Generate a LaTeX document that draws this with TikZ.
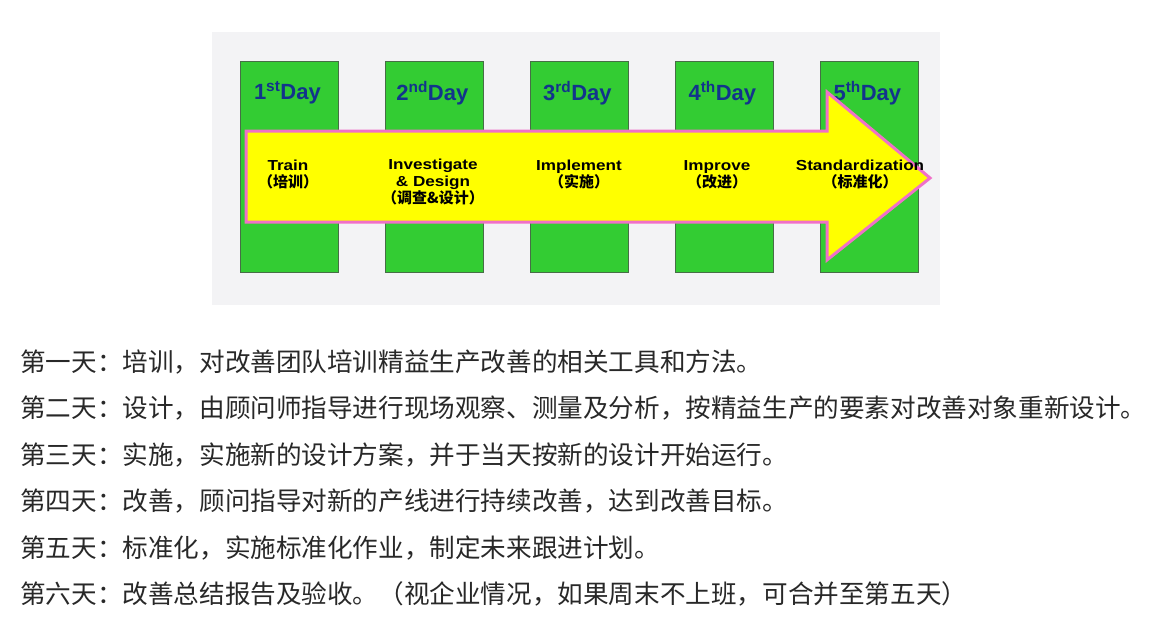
\documentclass[tikz,border=0pt]{standalone}
\usepackage{fontspec}
\setmainfont{Liberation Sans}
\newfontfamily\cjk{Noto Sans CJK SC}
\newfontfamily\stepfont[FakeStretch=1.18]{Liberation Sans}
\usepackage{tikz}
\usetikzlibrary{positioning, calc}

\definecolor{panelgray}{RGB}{243,243,245}
\definecolor{daygreen}{RGB}{51,204,51}
\definecolor{boxedge}{RGB}{70,110,70}
\definecolor{dayblue}{RGB}{18,52,140}
\definecolor{arrowpink}{RGB}{240,112,200}
\definecolor{arrowyellow}{RGB}{255,255,0}
\definecolor{textgray}{RGB}{40,40,40}

\newcommand{\cjkstep}{\cjk\bfseries\fontsize{15}{17}\selectfont}

\begin{document}
\begin{tikzpicture}[
    x=1pt, y=-1pt,
    daybox/.style={draw=boxedge, fill=daygreen, line width=0.8pt, minimum width=98pt, minimum height=211pt, inner sep=0pt},
    daylabel/.style={font=\bfseries\fontsize{22}{22}\selectfont, text=dayblue, inner sep=0pt},
    steplabel/.style={font=\stepfont\bfseries\fontsize{14.5}{17}\selectfont, align=center, inner sep=0pt},
    lineitem/.style={anchor=west, font=\cjk\fontsize{25.6}{25.6}\selectfont, text=textgray, inner sep=0pt}
]

% Dimensions
\def\colstep{145}
\def\rowstep{46.4}

\useasboundingbox (0,0) rectangle (1160,630);

% Backdrop of the picture
\fill[panelgray] (212,32) rectangle (940,305);

% Day columns
\foreach \i/\suf in {1/st,2/nd,3/rd,4/th,5/th} {
    \node[daybox, anchor=north west] (day\i) at ({240+\colstep*(\i-1)},61) {};
    \node[daylabel] (dayname\i) at ($(day\i.north)+(-2,32)$) {\i\textsuperscript{\suf}Day};
}

% The big arrow
\draw[arrowpink, fill=arrowyellow, line width=3pt, line join=miter]
    (246,131) -- (827,131) -- (827,92) -- (930,178) -- (827,260) -- (827,222) -- (246,222) -- cycle;

% Step labels
\node[steplabel] (train) at (288,175) {Train\\{\cjkstep （培训）}};
\node[steplabel] (design) at (433,182) {Investigate\\\& Design\\{\cjkstep （调查\&设计）}};
\node[steplabel] (implement) at (579,175) {Implement\\{\cjkstep （实施）}};
\node[steplabel] (improve) at (717,175) {Improve\\{\cjkstep （改进）}};
\node[steplabel] (standard) at (860,175) {Standardization\\{\cjkstep （标准化）}};

% Day by day notes
\foreach \n/\txt in {
    1/{第一天：培训，对改善团队培训精益生产改善的相关工具和方法。},
    2/{第二天：设计，由顾问师指导进行现场观察、测量及分析，按精益生产的要素对改善对象重新设计。},
    3/{第三天：实施，实施新的设计方案，并于当天按新的设计开始运行。},
    4/{第四天：改善，顾问指导对新的产线进行持续改善，达到改善目标。},
    5/{第五天：标准化，实施标准化作业，制定未来跟进计划。},
    6/{第六天：改善总结报告及验收。（视企业情况，如果周末不上班，可合并至第五天）}} {
    \node[lineitem] (note\n) at (20,{362+\rowstep*(\n-1)}) {\txt};
}

\end{tikzpicture}
\end{document}
